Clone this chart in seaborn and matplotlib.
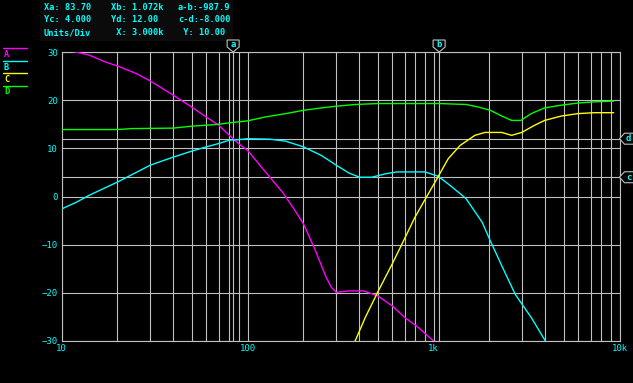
"""Network analyser style frequency response plot (traces A-D with cursors)."""

import matplotlib

matplotlib.use("Agg")
import matplotlib.pyplot as plt
import matplotlib.transforms as mtransforms
import numpy as np
import pandas as pd
import seaborn as sns
from matplotlib.lines import Line2D
from matplotlib.patches import Polygon, Rectangle
from matplotlib.ticker import FixedLocator, LogLocator, MultipleLocator, NullFormatter

# trace data (Hz, dB)
freq_a = [10, 11, 14, 17, 20, 25, 30, 40, 50, 60, 70, 80, 90, 100, 132, 155,
          180, 200, 230, 265, 283, 300, 350, 420, 500, 600, 700, 830, 1000, 1050]
level_a = [30.6, 30.3, 29.4, 28.0, 27.1, 25.6, 24.0, 21.0, 18.6, 16.5, 14.8, 12.7,
           10.9, 9.6, 4.0, 0.8, -2.9, -5.7, -10.9, -16.8, -18.9, -19.9, -19.6,
           -19.6, -20.6, -22.7, -25.1, -27.2, -30.0, -31.0]

freq_b = [10, 12, 14, 16, 20, 30, 40, 50, 60, 70, 80, 90, 100, 132, 160, 200,
          250, 300, 350, 400, 465, 550, 635, 900, 1060, 1200, 1400, 1500, 1830,
          2020, 2330, 2750, 3350, 4040]
level_b = [-2.6, -1.2, 0.2, 1.25, 3.0, 6.5, 8.2, 9.4, 10.3, 11.0, 11.7, 11.8,
           12.0, 11.9, 11.5, 10.3, 8.5, 6.5, 4.9, 4.0, 4.0, 4.7, 5.1, 5.1, 4.2,
           2.6, 0.5, -0.5, -5.4, -9.2, -14.4, -20.3, -25.1, -30.3]

freq_c = [360, 430, 505, 600, 690, 795, 960, 1020, 1200, 1390, 1670, 1890,
          2330, 2630, 2980, 3500, 3960, 4860, 5950, 7300, 9300]
level_c = [-32.0, -25.1, -19.6, -14.0, -9.2, -4.3, 1.25, 3.0, 7.85, 10.6, 12.7,
           13.3, 13.3, 12.7, 13.3, 14.8, 15.8, 16.7, 17.2, 17.4, 17.4]

freq_d = [10, 20, 24, 40, 50, 60, 70, 80, 100, 124, 160, 200, 250, 300, 380,
          500, 1080, 1500, 1730, 2020, 2330, 2630, 2950, 3350, 3960, 4860, 5950,
          7300, 9300]
level_d = [13.9, 13.9, 14.1, 14.2, 14.6, 14.8, 15.0, 15.3, 15.7, 16.5, 17.2,
           17.9, 18.4, 18.75, 19.1, 19.3, 19.3, 19.1, 18.6, 17.9, 16.7, 15.8,
           15.8, 17.2, 18.4, 18.96, 19.4, 19.65, 19.8]

trace_names = ["A", "B", "C", "D"]
trace_colors = ["#ff00ff", "#00ffff", "#ffff00", "#00ff00"]

cursor_x = {"a": 83.70, "b": 1072.0}
cursor_y = {"c": 4.0, "d": 12.0}

x_ticks = [10, 100, 1000, 10000]
x_tick_labels = ["10", "100", "1k", "10k"]
y_ticks = [-30, -20, -10, 0, 10, 20, 30]

header_rows = [
    ["Xa: 83.70", "Xb: 1.072k", "a-b:-987.9"],
    ["Yc: 4.000", "Yd: 12.00", "c-d:-8.000"],
    ["Units/Div", " X: 3.000k", " Y: 10.00"],
]

W, H = 633, 383
GRID = "#c0c0c0"
TXT = "#00ffff"

df = pd.concat(
    [
        pd.DataFrame({"freq": f, "level": v, "trace": n})
        for f, v, n in zip([freq_a, freq_b, freq_c, freq_d],
                           [level_a, level_b, level_c, level_d], trace_names)
    ],
    ignore_index=True,
)

sns.set_style("dark", {"axes.facecolor": "black", "figure.facecolor": "black"})
plt.rcParams["font.family"] = ["DejaVu Sans Mono"]

fig = plt.figure(figsize=(W / 100, H / 100), dpi=100)
fig.patch.set_facecolor("black")
ax = fig.add_axes([61.5 / W, 1 - 341 / H, 558 / W, 289 / H])
ax.set_facecolor("black")

# darker panel behind the readout
fig.add_artist(Rectangle((40 / W, 1 - 40 / H), 192 / W, 40 / H,
                         transform=fig.transFigure, color="#0b0b0b", zorder=0))

ax.set_xscale("log")
sns.lineplot(data=df, x="freq", y="level", hue="trace",
             palette=dict(zip(trace_names, trace_colors)), estimator=None,
             sort=False, legend=False, linewidth=1.0, ax=ax, zorder=3)

ax.set_xlim(10, 10000)
ax.set_ylim(-30, 30)
ax.set(xlabel="", ylabel="")

ax.xaxis.set_major_locator(FixedLocator(x_ticks))
ax.set_xticklabels(x_tick_labels)
ax.xaxis.set_minor_locator(LogLocator(base=10, subs=np.arange(2, 10)))
ax.xaxis.set_minor_formatter(NullFormatter())
ax.set_yticks(y_ticks)
ax.yaxis.set_minor_locator(MultipleLocator(2))

ax.grid(True, which="major", axis="both", color=GRID, linewidth=0.8, zorder=1)
ax.grid(True, which="minor", axis="x", color=GRID, linewidth=0.8, zorder=1)
ax.set_axisbelow(True)

ax.tick_params(axis="x", which="both", length=0, pad=2.5, labelsize=6.5,
               labelcolor=TXT)
ax.tick_params(axis="y", which="major", length=0, pad=2.5, labelsize=6.5,
               labelcolor=TXT)
ax.tick_params(axis="y", which="minor", length=3, width=0.8, direction="in",
               color=GRID)
for s in ax.spines.values():
    s.set_color(GRID)
    s.set_linewidth(0.8)

for v in cursor_x.values():
    ax.axvline(v, color=GRID, linewidth=0.8, zorder=1)
for v in cursor_y.values():
    ax.axhline(v, color=GRID, linewidth=0.8, zorder=1)

# cursor flags (drawn in pixel space)
ident = mtransforms.IdentityTransform()
for name, v in cursor_x.items():
    px, py = ax.transData.transform((v, 30))
    verts = [(px - 6, py + 12), (px + 6, py + 12), (px + 6, py + 5),
             (px, py), (px - 6, py + 5)]
    fig.add_artist(Polygon(verts, closed=True, facecolor="black",
                           edgecolor=GRID, linewidth=0.8, transform=ident))
    fig.text(px / W, (py + 7.5) / H, name, color=TXT, fontsize=6.5,
             ha="center", va="center", fontweight="bold")
for name, v in cursor_y.items():
    px, py = ax.transData.transform((10000, v))
    verts = [(px, py), (px + 5, py + 5.5), (px + 16, py + 5.5),
             (px + 16, py - 5.5), (px + 5, py - 5.5)]
    fig.add_artist(Polygon(verts, closed=True, facecolor="black",
                           edgecolor=GRID, linewidth=0.8, transform=ident))
    fig.text((px + 9) / W, py / H, name, color=TXT, fontsize=6.5,
             ha="center", va="center", fontweight="bold")

# readout block
col_x = [44, 111, 178]
row_y = [7.5, 20, 32.5]
for row, y in zip(header_rows, row_y):
    for txt, x in zip(row, col_x):
        fig.text(x / W, 1 - y / H, txt, color=TXT, fontsize=6.2,
                 ha="left", va="center", fontweight="bold")

# trace legend on the left
legend_y = [48.3, 61, 73.3, 86]
for name, color, y in zip(trace_names, trace_colors, legend_y):
    fig.add_artist(Line2D([3 / W, 27 / W], [1 - y / H] * 2, color=color,
                          linewidth=1.0, transform=fig.transFigure))
    fig.text(4 / W, 1 - (y + 6) / H, name, color=color, fontsize=6.2,
             ha="left", va="center", fontweight="bold")

fig.savefig("out.png", dpi=100, facecolor="black")
